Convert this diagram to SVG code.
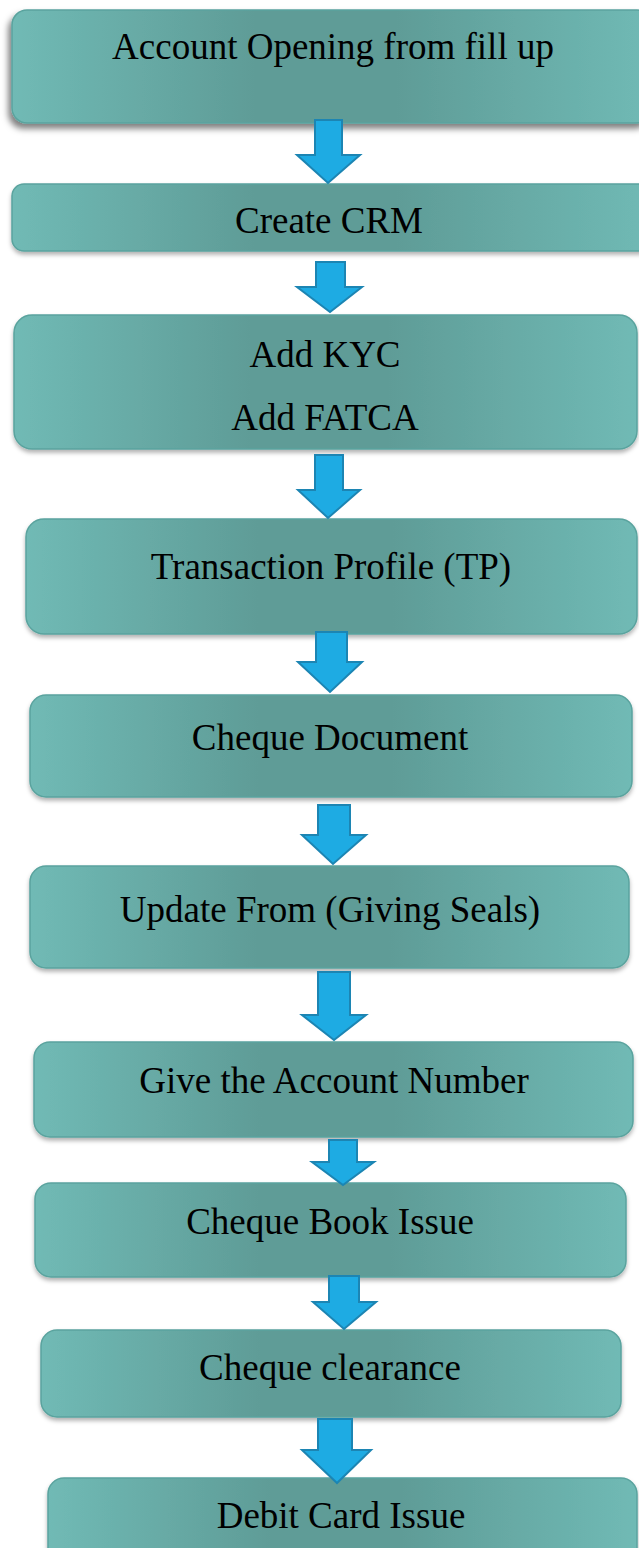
<svg xmlns="http://www.w3.org/2000/svg" width="639" height="1548" viewBox="0 0 639 1548">
<defs>
<linearGradient id="teal" x1="0" y1="0" x2="1" y2="0">
<stop offset="0" stop-color="#70bab5"/>
<stop offset="0.38" stop-color="#5f9c97"/>
<stop offset="0.6" stop-color="#5f9c97"/>
<stop offset="1" stop-color="#70bab5"/>
</linearGradient>
<filter id="sh" x="-5%" y="-20%" width="110%" height="150%">
<feDropShadow dx="0" dy="3" stdDeviation="2" flood-color="#000" flood-opacity="0.3"/>
</filter>
<filter id="sh1" x="-5%" y="-20%" width="110%" height="150%">
<feDropShadow dx="-3" dy="5" stdDeviation="3" flood-color="#000" flood-opacity="0.5"/>
</filter>
</defs>
<style>
.box{fill:url(#teal);stroke:#5aa39e;stroke-width:1.5;filter:url(#sh)}
.t{font-family:"Liberation Serif","Times New Roman",serif;font-size:37px;fill:#000;text-anchor:middle}
.arr{fill:#1eabe3;stroke:#1c85b3;stroke-width:2;stroke-linejoin:miter}
</style>
<rect width="639" height="1548" fill="#fff"/>
<g id="n1"><rect class="box" x="12" y="10" width="640" height="113" rx="15" style="filter:url(#sh1)"/><text class="t" x="333" y="59">Account Opening from fill up</text></g>
<g id="n2"><rect class="box" x="12" y="184" width="640" height="67" rx="12"/><text class="t" x="329" y="233">Create CRM</text></g>
<g id="n3"><rect class="box" x="14" y="315" width="623" height="134" rx="18"/><text class="t" x="325" y="367">Add KYC</text><text class="t" x="325" y="430">Add FATCA</text></g>
<g id="n4"><rect class="box" x="26" y="519" width="611" height="115" rx="18"/><text class="t" x="331" y="579">Transaction Profile (TP)</text></g>
<g id="n5"><rect class="box" x="30" y="695" width="602" height="102" rx="16"/><text class="t" x="330" y="750">Cheque Document</text></g>
<g id="n6"><rect class="box" x="30" y="866" width="599" height="102" rx="16"/><text class="t" x="330" y="922">Update From (Giving Seals)</text></g>
<g id="n7"><rect class="box" x="34" y="1042" width="599" height="95" rx="16"/><text class="t" x="334" y="1093">Give the Account Number</text></g>
<g id="n8"><rect class="box" x="35" y="1183" width="591" height="94" rx="16"/><text class="t" x="330" y="1234">Cheque Book Issue</text></g>
<g id="n9"><rect class="box" x="41" y="1330" width="580" height="87" rx="16"/><text class="t" x="330" y="1380">Cheque clearance</text></g>
<g id="n10"><rect class="box" x="48" y="1478" width="589" height="90" rx="16"/><text class="t" x="341" y="1528">Debit Card Issue</text></g>
<g id="connectors">
<polygon class="arr" points="315,120 342,120 342,155 360,155 328,183 297,155 315,155"/>
<polygon class="arr" points="316,262 345,262 345,287 362,287 330,312 297,287 316,287"/>
<polygon class="arr" points="315,455 343,455 343,490 360,490 328,518 298,490 315,490"/>
<polygon class="arr" points="316,632 347,632 347,662 362,662 330,692 298,662 316,662"/>
<polygon class="arr" points="318,805 350,805 350,835 366,835 333,864 302,835 318,835"/>
<polygon class="arr" points="318,972 350,972 350,1015 366,1015 334,1040 302,1015 318,1015"/>
<polygon class="arr" points="329,1140 357,1140 357,1162 374,1162 343,1185 312,1162 329,1162"/>
<polygon class="arr" points="329,1276 359,1276 359,1302 376,1302 344,1329 313,1302 329,1302"/>
<polygon class="arr" points="318,1419 352,1419 352,1450 371,1450 337,1483 302,1450 318,1450"/>
</g>
</svg>
